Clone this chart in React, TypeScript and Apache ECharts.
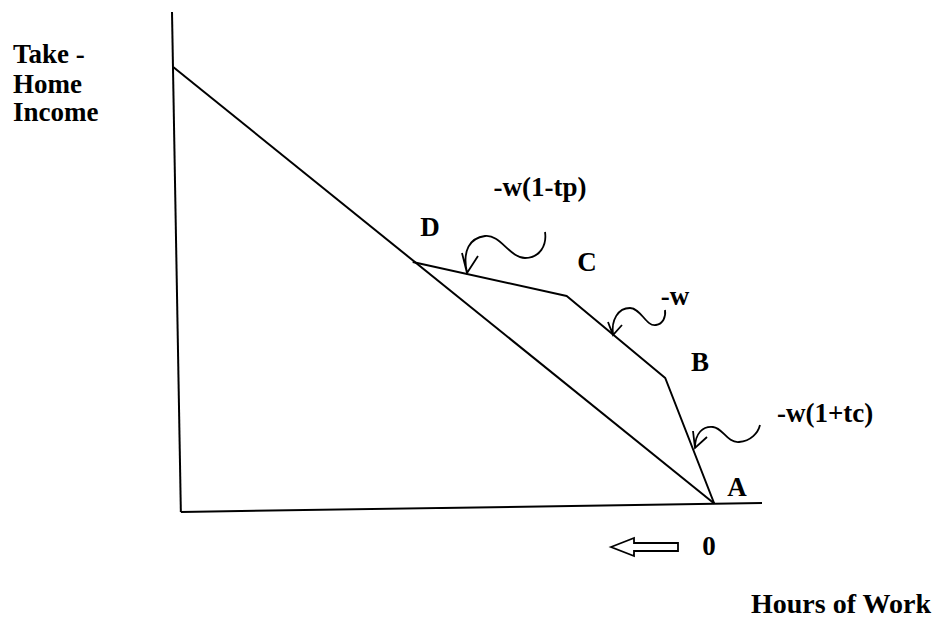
import React, { useEffect, useRef } from "react";
import * as echarts from "echarts";

// Data (in chart units: x 0..100 across the plot, y 0..100 up the plot)
const yAxisLineX = [0, 1.5];
const yAxisLineY = [100, 0];
const xAxisLineX = [1.5, 100];
const xAxisLineY = [0, 1.8];
const budgetLineX = [0.2, 91.9];
const budgetLineY = [89, 1.7];
const kinkedX = [91.9, 83.6, 66.9, 40.8]; // A, B, C, D
const kinkedY = [1.7, 26.8, 43.2, 50.0];
const pointLabels = ["A", "B", "C", "D"];
const slopeLabels = ["-w(1+tc)", "-w", "-w(1-tp)"];
const yTitleLines = ["Take -", "Home", "Income"];
const xTitle = "Hours of Work";
const originLabel = "0";

const FONT = '"Liberation Serif", "Times New Roman", serif';

echarts.graphic.registerShape(
  "curl_tp",
  echarts.graphic.extendPath(
    "M0,0 C-5,-23 3,-35 18,-37 C33,-39 43,-15 58,-15 C73,-15 80,-28 78,-41 M-5,-20 L0,0 L11,-17",
    {}
  )
);
echarts.graphic.registerShape(
  "curl_w",
  echarts.graphic.extendPath(
    "M0,0 C-2,-15 5,-27 17,-27 C28,-27 33,-8 43,-10 C50,-11 53,-18 52,-25 M-5,-13 L0,0 L9,-10",
    {}
  )
);
echarts.graphic.registerShape(
  "curl_tc",
  echarts.graphic.extendPath(
    "M0,0 C0,-15 8,-22 18,-21 C28,-20 32,-5 44,-6 C56,-7 63,-15 65,-23 M-2,-17 L0,0 L12,-11",
    {}
  )
);

const pairs = (xs: number[], ys: number[]) => xs.map((x, i) => [x, ys[i]]);

const lineSeries = (name: string, data: number[][]) => ({
  name,
  type: "line",
  data,
  symbol: "none",
  silent: true,
  lineStyle: { color: "#000", width: 2 },
});

const textEl = (
  text: string,
  x: number,
  y: number,
  align: string = "center",
  size: number = 27
) => ({
  type: "text",
  x,
  y,
  silent: true,
  style: {
    text,
    fill: "#000",
    font: `bold ${size}px ${FONT}`,
    align,
    verticalAlign: "middle",
  },
});

export default function App() {
  const ref = useRef<HTMLDivElement>(null);
  useEffect(() => {
    if (!ref.current) return;
    const chart = echarts.init(ref.current, null, { renderer: "svg" });
    const curlStyle = { stroke: "#000", fill: "none", lineWidth: 1.8 };
    chart.setOption({
      animation: false,
      backgroundColor: "#fff",
      grid: { left: 172, top: 12, width: 590, height: 500 },
      xAxis: { type: "value", min: 0, max: 100, show: false },
      yAxis: { type: "value", min: 0, max: 100, show: false },
      series: [
        lineSeries("yAxis", pairs(yAxisLineX, yAxisLineY)),
        lineSeries("xAxis", pairs(xAxisLineX, xAxisLineY)),
        lineSeries("budget", pairs(budgetLineX, budgetLineY)),
        lineSeries("kinked", pairs(kinkedX, kinkedY)),
      ],
      graphic: [
        textEl(yTitleLines[0], 13, 54, "left"),
        textEl(yTitleLines[1], 13, 84, "left"),
        textEl(yTitleLines[2], 13, 112, "left"),
        textEl(xTitle, 751, 603, "left", 28),
        textEl(pointLabels[0], 737, 487),
        textEl(pointLabels[1], 700, 362),
        textEl(pointLabels[2], 587, 262),
        textEl(pointLabels[3], 430, 227),
        textEl(slopeLabels[0], 777, 413, "left"),
        textEl(slopeLabels[1], 675, 296),
        textEl(slopeLabels[2], 540, 187),
        textEl(originLabel, 709, 546),
        { type: "curl_tp", x: 467, y: 273, silent: true, style: curlStyle },
        { type: "curl_w", x: 613, y: 335, silent: true, style: curlStyle },
        { type: "curl_tc", x: 695, y: 448, silent: true, style: curlStyle },
        {
          type: "polygon",
          silent: true,
          shape: {
            points: [
              [611, 547],
              [634, 538],
              [634, 543],
              [678, 543],
              [678, 551],
              [634, 551],
              [634, 556],
            ],
          },
          style: { fill: "#fff", stroke: "#000", lineWidth: 1.8 },
        },
      ],
    });
    return () => chart.dispose();
  }, []);
  return (
    <div
      ref={ref}
      style={{
        position: "fixed",
        left: 0,
        top: 0,
        width: 938,
        height: 619,
        background: "#fff",
      }}
    />
  );
}
